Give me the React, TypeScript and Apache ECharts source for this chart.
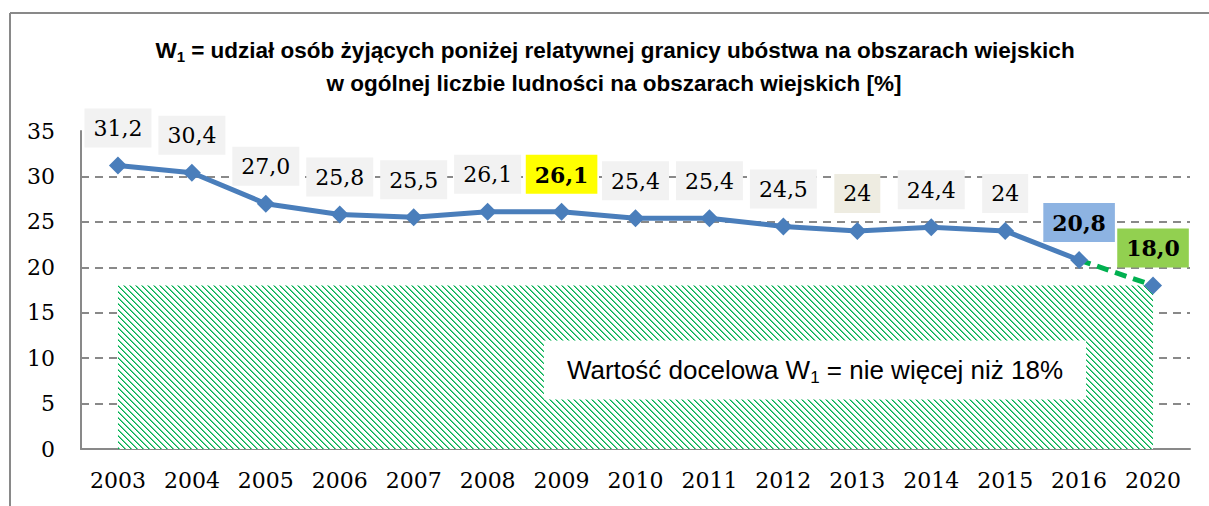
import React, { useEffect, useRef } from 'react';
import * as echarts from 'echarts';

// ---- data ----
const years = ['2003', '2004', '2005', '2006', '2007', '2008', '2009', '2010', '2011', '2012', '2013', '2014', '2015', '2016', '2020'];
const values = [31.2, 30.4, 27.0, 25.8, 25.5, 26.1, 26.1, 25.4, 25.4, 24.5, 24, 24.4, 24, 20.8, 18.0];
const valueLabels = ['31,2', '30,4', '27,0', '25,8', '25,5', '26,1', '26,1', '25,4', '25,4', '24,5', '24', '24,4', '24', '20,8', '18,0'];
const lastActualYear = '2016';
const targetYear = '2020';
const targetValue = 18;
const yMin = 0;
const yMax = 35;
const yInterval = 5;
const titleLine1 = ['W', '1', ' = udział osób żyjących poniżej relatywnej granicy ubóstwa na obszarach wiejskich'];
const titleLine2 = 'w ogólnej liczbie ludności na obszarach wiejskich [%]';
const noteParts = ['Wartość docelowa W', '1', ' = nie więcej niż 18%'];

// special label styles by year
const highlight: Record<string, { bg: string; bold: boolean }> = {
  '2009': { bg: '#ffff00', bold: true },
  '2013': { bg: '#eeece1', bold: false },
  '2016': { bg: '#8db3e2', bold: true },
  '2020': { bg: '#92d050', bold: true },
};

const BLUE = '#4a7ebb';
const GREEN = '#00b050';
const GRAY = '#898989';
const SERIF = 'DejaVu Serif';
const SANS = 'Liberation Sans';

function makeHatch(): string {
  const n = 6;
  const c = document.createElement('canvas');
  c.width = n;
  c.height = n;
  const ctx = c.getContext('2d')!;
  ctx.fillStyle = '#ffffff';
  ctx.fillRect(0, 0, n, n);
  for (let i = 0; i < n; i++) {
    ctx.fillStyle = GREEN;
    ctx.fillRect(i, i, 1, 1);
    ctx.fillStyle = 'rgba(0,176,80,0.6)';
    ctx.fillRect((i + 1) % n, i, 1, 1);
  }
  return c.toDataURL();
}

function labelFor(year: string, idx: number) {
  const h = highlight[year];
  return {
    show: true,
    position: 'top',
    distance: 9,
    formatter: () => valueLabels[idx],
    fontFamily: SERIF,
    fontSize: 22,
    lineHeight: 26,
    fontWeight: h && h.bold ? 'bold' : 'normal',
    color: '#000',
    backgroundColor: h ? h.bg : '#f2f2f2',
    padding: [7, 9, 6, 9],
  };
}

export default function App() {
  const ref = useRef<HTMLDivElement>(null);

  useEffect(() => {
    document.body.style.margin = '0';
    const chart = echarts.init(ref.current!, null, { renderer: 'svg' });
    const lastActualIdx = years.indexOf(lastActualYear);
    const targetIdx = years.indexOf(targetYear);

    const actualData = values.map((v, i) =>
      i <= lastActualIdx ? { value: v, label: labelFor(years[i], i) } : null
    );
    const targetData = values.map((v, i) => {
      if (i === lastActualIdx) return { value: v, symbol: 'none', label: { show: false } };
      if (i === targetIdx) return { value: v, symbol: 'diamond', label: labelFor(years[i], i) };
      return null;
    });

    const hatch = makeHatch();

    chart.setOption({
      animation: false,
      grid: { left: 81, right: 19, top: 131, bottom: 57 },
      xAxis: {
        type: 'category',
        data: years,
        boundaryGap: true,
        axisLine: { show: true, lineStyle: { color: GRAY, width: 2 } },
        axisTick: { show: false },
        axisLabel: { fontFamily: SERIF, fontSize: 22, color: '#000', margin: 20 },
        splitLine: { show: false },
      },
      yAxis: {
        type: 'value',
        min: yMin,
        max: yMax,
        interval: yInterval,
        axisLine: { show: true, lineStyle: { color: GRAY, width: 2 } },
        axisTick: { show: false },
        axisLabel: { fontFamily: SERIF, fontSize: 22, color: '#000', margin: 26 },
        splitLine: {
          show: true,
          showMinLine: false,
          showMaxLine: false,
          lineStyle: { color: GRAY, width: 2, type: [8, 6] },
        },
      },
      series: [
        {
          type: 'line',
          data: targetData,
          connectNulls: false,
          symbol: 'diamond',
          symbolSize: 18,
          showAllSymbol: true,
          itemStyle: { color: BLUE },
          lineStyle: { color: GREEN, width: 5, type: [12, 7] },
          z: 2,
        },
        {
          type: 'line',
          data: actualData,
          connectNulls: false,
          symbol: 'diamond',
          symbolSize: 18,
          showAllSymbol: true,
          itemStyle: { color: BLUE },
          lineStyle: { color: BLUE, width: 5 },
          z: 3,
          markArea: {
            silent: true,
            z: 1,
            itemStyle: {
              color: { image: hatch, repeat: 'repeat', imageWidth: 6, imageHeight: 6 },
            },
            data: [[
              { xAxis: years[0], yAxis: 0 },
              { xAxis: years[targetIdx], yAxis: targetValue },
            ]],
          },
        },
      ],
      graphic: [
        { type: 'line', z: 50, shape: { x1: 10, y1: 13, x2: 1209, y2: 13 }, style: { stroke: GRAY, lineWidth: 2 } },
        { type: 'line', z: 50, shape: { x1: 10, y1: 13, x2: 10, y2: 506 }, style: { stroke: GRAY, lineWidth: 2 } },
        {
          type: 'text',
          z: 50,
          x: 615,
          y: 50,
          style: {
            text: `{b|${titleLine1[0]}}{s|${titleLine1[1]}}{b|${titleLine1[2]}}`,
            align: 'center',
            verticalAlign: 'middle',
            rich: {
              b: { fontFamily: SANS, fontSize: 22.5, fontWeight: 'bold', lineHeight: 28, fill: '#000' },
              s: { fontFamily: SANS, fontSize: 15, fontWeight: 'bold', lineHeight: 15, verticalAlign: 'bottom', fill: '#000' },
            },
          },
        },
        {
          type: 'text',
          z: 50,
          x: 614,
          y: 83,
          style: {
            text: titleLine2,
            align: 'center',
            verticalAlign: 'middle',
            fontFamily: SANS,
            fontSize: 22.5,
            fontWeight: 'bold',
            fill: '#000',
          },
        },
        {
          type: 'text',
          z: 100,
          x: 815,
          y: 370,
          style: {
            text: `{n|${noteParts[0]}}{s|${noteParts[1]}}{n|${noteParts[2]}}`,
            align: 'center',
            verticalAlign: 'middle',
            backgroundColor: '#ffffff',
            padding: [14, 23, 14, 23],
            rich: {
              n: { fontFamily: SANS, fontSize: 26, lineHeight: 31, fill: '#000' },
              s: { fontFamily: SANS, fontSize: 17, lineHeight: 17, verticalAlign: 'bottom', fill: '#000' },
            },
          },
        },
      ],
    });
    return () => chart.dispose();
  }, []);

  return <div ref={ref} style={{ width: 1209, height: 506 }} />;
}
